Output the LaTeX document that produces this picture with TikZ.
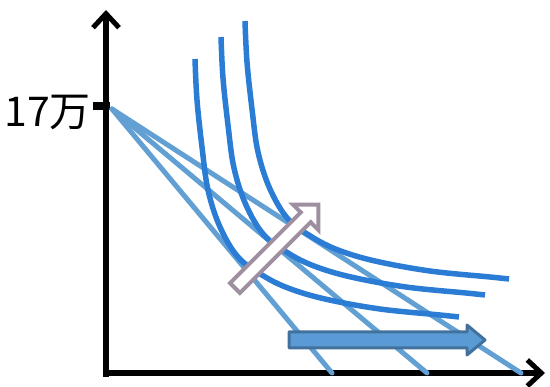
\documentclass[tikz,border=0pt]{standalone}
\usepackage{fontspec}
\newfontfamily\cjk{Noto Sans CJK JP}
\usetikzlibrary{arrows.meta}
\definecolor{curveblue}{HTML}{2B7CD5}
\definecolor{budgetblue}{HTML}{62A0D3}
\definecolor{arrowfill}{HTML}{5B9BD5}
\definecolor{arrowedge}{HTML}{41719C}
\definecolor{mauve}{HTML}{9E8FA0}
\tikzset{
  axisline/.style={line width=5.5pt, -{Straight Barb[length=14pt,width=26pt,line width=5pt]}},
  budget/.style={budgetblue, line width=5pt},
  icurve/.style={curveblue, line width=5.5pt},
  hollowarrow/.style={draw=mauve, fill=white, line width=4pt, line join=miter},
  blockarrow/.style={draw=arrowedge, fill=arrowfill, line width=3pt, line join=round},
}
\begin{document}
\begin{tikzpicture}[x=1pt,y=-1pt]
\useasboundingbox (0,0) rectangle (550,387);
% axes
\draw[axisline] (106,377) -- (106,10);
\draw[axisline] (103,373) -- (545,373);
\draw[line width=8pt] (93,106) -- (110,106);
\node[font=\cjk\fontsize{41}{41}\selectfont, anchor=base east, inner sep=0pt] (label) at (91,127) {17万};
% budget lines
\coordinate (origin) at (112,109);
\coordinate (b1) at (332,373);
\coordinate (b2) at (427,373);
\coordinate (b3) at (521,373);
\draw[budget, line cap=round] (origin) -- (b1);
\draw[budget, line cap=round] (origin) -- (b2);
\draw[budget, line cap=round] (origin) -- (b3);
% indifference curves
\foreach \dx/\dy in {0/0, 26/-22, 50/-38} {
  \draw[icurve, xshift=\dx, yshift=-\dy] plot[smooth, tension=0.6] coordinates {
    (195,59) (197,100) (202,147) (208,190) (220,227) (238,257) (262,275)
    (288,288) (325,299) (380,309) (440,315) (459,317)};
}
% hollow diagonal arrow
\draw[hollowarrow] (230.05,283.05) -- (300.76,212.34) -- (293.0,204.6) -- (318.4,204.6)
  -- (318.4,230.0) -- (310.66,222.24) -- (239.95,292.95) -- cycle;
% blue horizontal arrow
\draw[blockarrow] (289,332) -- (467,332) -- (467,325) -- (485,340) -- (467,355) -- (467,348) -- (289,348) -- cycle;
\end{tikzpicture}
\end{document}
